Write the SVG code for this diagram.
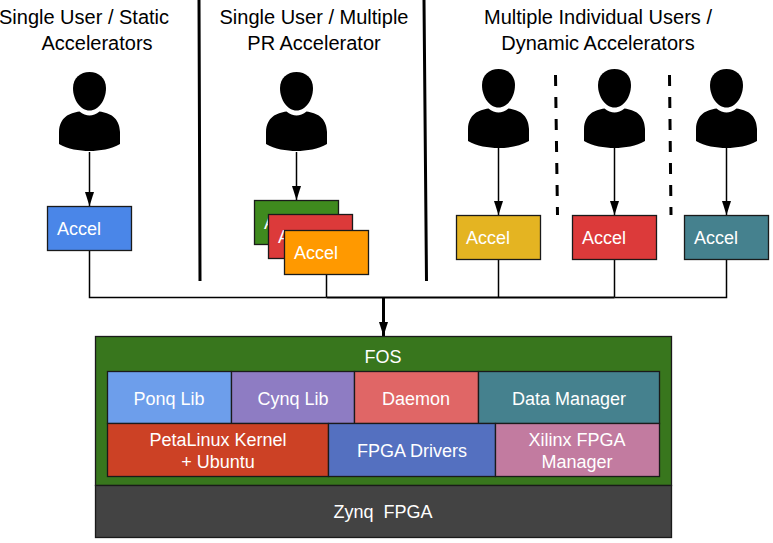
<svg xmlns="http://www.w3.org/2000/svg" width="773" height="543" viewBox="0 0 773 543">
<style>
text{font-family:"Liberation Sans",Arial,sans-serif;font-size:18px;fill:#fff}
.h{fill:#000;font-size:20px;text-anchor:middle}
.c{text-anchor:middle}
.b{stroke:#1a1a1a;stroke-width:1.3}
.l{fill:none;stroke:#000;stroke-width:1.5}
.t{fill:none;stroke:#000;stroke-width:3}
.d{fill:none;stroke:#000;stroke-width:3;stroke-dasharray:11 11}
</style>
<defs>
<marker id="a" markerUnits="userSpaceOnUse" markerWidth="9" markerHeight="12" refX="9" refY="4.5" orient="auto" viewBox="0 0 9 9"><path d="M0 0L9 4.5L0 9z" fill="#000"/></marker>
<marker id="a2" markerUnits="userSpaceOnUse" markerWidth="12" markerHeight="10" refX="12" refY="5" orient="auto" viewBox="0 0 12 10"><path d="M0 0L12 5L0 10z" fill="#000"/></marker>
<symbol id="u" overflow="visible"><path d="M0-40C-9-40-16.500-34-16.500-24C-16.500-12-9-1.500 0-1.500C9-1.500 16.500-12 16.500-24C16.500-34 9-40 0-40z"/><path d="M-10-.5C-7 2-3 3.500 0 3.500C3 3.500 7 2 10-.5C20 1 30 5 30.500 20V32C22 37 10 39 0 39C-10 39-22 37-30.500 32V20C-30 5-20 1-10-.5z"/></symbol>
<marker id="a3" markerUnits="userSpaceOnUse" markerWidth="14" markerHeight="9" refX="14" refY="4.500" orient="auto" viewBox="0 0 14 9"><path d="M0 0L14 4.500L0 9z" fill="#000"/></marker>
</defs>
<g id="separators">
<path class="t" d="M199 0L200 281M424 0L426.500 281"/>
<path class="d" d="M555.500 75L557.500 215M669.500 75L671 215"/>
</g>
<g id="connectors">
<path class="l" d="M89.500 152V206" marker-end="url(#a3)"/>
<path class="l" d="M296.500 152V200" marker-end="url(#a3)"/>
<path class="l" d="M498.500 148V215" marker-end="url(#a3)"/>
<path class="l" d="M614.500 148V215" marker-end="url(#a3)"/>
<path class="l" d="M726.500 148V215" marker-end="url(#a3)"/>
<path class="l" d="M89.500 250.500V297.500H326.500M326.500 274.500V297.500M498.500 259.500V297.500M614.500 259.500V297.500M726.500 259.500V297.500H614.500"/>
<path class="t" style="stroke-width:2" d="M326.500 297.500H614.500"/>
<path class="t" d="M383.500 297.500V336" marker-end="url(#a3)"/>
</g>
<g id="title-1"><text class="h" x="84" y="24">Single User / Static</text><text class="h" x="97" y="50">Accelerators</text></g>
<g id="title-2"><text class="h" x="314" y="24">Single User / Multiple</text><text class="h" x="314" y="50">PR Accelerator</text></g>
<g id="title-3"><text class="h" x="598" y="24">Multiple Individual Users /</text><text class="h" x="598" y="50">Dynamic Accelerators</text></g>
<g id="user-1"><use href="#u" x="89.500" y="112"/></g>
<g id="user-2"><use href="#u" x="296.500" y="112"/></g>
<g id="user-3"><use href="#u" x="498.500" y="109"/></g>
<g id="user-4"><use href="#u" x="614.500" y="109"/></g>
<g id="user-5"><use href="#u" x="726.500" y="109"/></g>
<g id="accel-blue"><rect class="b" x="47.500" y="206.500" width="84" height="44" fill="#4a86e8"/><text x="57" y="235">Accel</text></g>
<g id="accel-green"><rect class="b" x="254.500" y="200.500" width="84" height="44" fill="#3f8a1e"/><text x="264" y="229">Accel</text></g>
<g id="accel-red-stack"><rect class="b" x="268.500" y="214.500" width="84" height="44" fill="#dc3a3a"/><text x="278" y="243">Accel</text></g>
<g id="accel-orange"><rect class="b" x="284.500" y="230.500" width="84" height="44" fill="#ff9900"/><text x="294" y="259">Accel</text></g>
<g id="accel-yellow"><rect class="b" x="456.500" y="215.500" width="84" height="44" fill="#e4b422"/><text x="466" y="244">Accel</text></g>
<g id="accel-red"><rect class="b" x="572.500" y="215.500" width="84" height="44" fill="#dc3a3a"/><text x="582" y="244">Accel</text></g>
<g id="accel-teal"><rect class="b" x="684.500" y="215.500" width="84" height="44" fill="#45818e"/><text x="694" y="244">Accel</text></g>
<g id="fos"><rect class="b" x="95.500" y="336.500" width="576" height="149" fill="#38761d"/><text class="c" x="383" y="363">FOS</text></g>
<g id="ponq"><rect class="b" x="107.500" y="371.500" width="124" height="52" fill="#6d9eeb"/><text class="c" x="169" y="405">Ponq Lib</text></g>
<g id="cynq"><rect class="b" x="231.500" y="371.500" width="123" height="52" fill="#8e7cc3"/><text class="c" x="293" y="405">Cynq Lib</text></g>
<g id="daemon"><rect class="b" x="354.500" y="371.500" width="124" height="52" fill="#e06666"/><text class="c" x="416" y="405">Daemon</text></g>
<g id="data-manager"><rect class="b" x="478.500" y="371.500" width="181" height="52" fill="#45818e"/><text class="c" x="569" y="405">Data Manager</text></g>
<g id="petalinux"><rect class="b" x="107.500" y="423.500" width="221" height="53" fill="#cc4125"/><text class="c" x="218" y="446">PetaLinux Kernel</text><text class="c" x="218" y="468">+ Ubuntu</text></g>
<g id="drivers"><rect class="b" x="328.500" y="423.500" width="167" height="53" fill="#5470c0"/><text class="c" x="412" y="457">FPGA Drivers</text></g>
<g id="xilinx"><rect class="b" x="495.500" y="423.500" width="164" height="53" fill="#c27ba0"/><text class="c" x="577" y="446">Xilinx FPGA</text><text class="c" x="577" y="468">Manager</text></g>
<g id="zynq"><rect class="b" x="95.500" y="485.500" width="576" height="52" fill="#434343"/><text class="c" x="383" y="518" xml:space="preserve">Zynq  FPGA</text></g>
</svg>
